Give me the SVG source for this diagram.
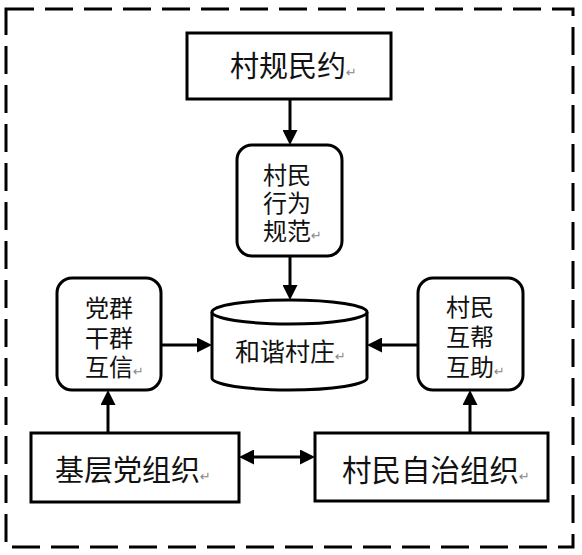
<svg xmlns="http://www.w3.org/2000/svg" width="582" height="555" viewBox="0 0 582 555">
  <style>
    .box { fill: #fff; stroke: #000; stroke-width: 3; }
    .t { font-family: "Liberation Sans", "Noto Sans CJK SC", sans-serif; fill: #111; }
    .big { font-size: 29px; }
    .mid { font-size: 25px; }
    .sm { font-size: 24px; }
    .ret { font-family: "DejaVu Sans", sans-serif; font-size: 13px; fill: #888; }
    .conn { stroke: #000; stroke-width: 3; fill: none; }
  </style>
  <defs>
    <marker id="ah" markerUnits="userSpaceOnUse" markerWidth="15" markerHeight="15" refX="9" refY="7.5" orient="auto-start-reverse">
      <path d="M0,0 L15,7.5 L0,15 z" fill="#000"/>
    </marker>
  </defs>
  <rect x="0" y="0" width="582" height="555" fill="#fff"/>
  <rect x="6" y="9" width="567" height="538" fill="none" stroke="#000" stroke-width="3" stroke-dasharray="28 11"/>

  <g id="connectors">
    <line class="conn" x1="290" y1="99" x2="290" y2="139" marker-end="url(#ah)"/>
    <line class="conn" x1="290" y1="256" x2="290" y2="294" marker-end="url(#ah)"/>
    <line class="conn" x1="161" y1="345" x2="206" y2="345" marker-end="url(#ah)"/>
    <line class="conn" x1="418" y1="345" x2="373" y2="345" marker-end="url(#ah)"/>
    <line class="conn" x1="108" y1="433" x2="108" y2="396" marker-end="url(#ah)"/>
    <line class="conn" x1="470" y1="433" x2="470" y2="396" marker-end="url(#ah)"/>
    <line class="conn" x1="245" y1="457" x2="309" y2="457" marker-start="url(#ah)" marker-end="url(#ah)"/>
  </g>

  <g id="cungui">
    <rect class="box" x="187" y="33" width="204" height="66"/>
    <text class="t big" x="230" y="77">村规民约<tspan class="ret">↵</tspan></text>
  </g>

  <g id="xingwei">
    <rect class="box" x="237" y="145" width="105" height="111" rx="15"/>
    <text class="t sm"><tspan x="263" y="184">村民</tspan><tspan x="263" y="212">行为</tspan><tspan x="263" y="240">规范</tspan><tspan class="ret">↵</tspan></text>
  </g>

  <g id="hexie">
    <path class="box" d="M212,312 L212,378 A77.5,12 0 0,0 367,378 L367,312"/>
    <ellipse class="box" cx="289.5" cy="312" rx="77.5" ry="12"/>
    <text class="t mid" x="235" y="361">和谐村庄<tspan class="ret">↵</tspan></text>
  </g>

  <g id="dangqun">
    <rect class="box" x="57" y="278" width="104" height="112" rx="15"/>
    <text class="t sm"><tspan x="85" y="317">党群</tspan><tspan x="85" y="347">干群</tspan><tspan x="85" y="376">互信</tspan><tspan class="ret">↵</tspan></text>
  </g>

  <g id="huzhu">
    <rect class="box" x="418" y="278" width="105" height="112" rx="15"/>
    <text class="t sm"><tspan x="446" y="316">村民</tspan><tspan x="446" y="346">互帮</tspan><tspan x="446" y="376">互助</tspan><tspan class="ret">↵</tspan></text>
  </g>

  <g id="jiceng">
    <rect class="box" x="31" y="433" width="208" height="69"/>
    <text class="t big" x="55" y="481">基层党组织<tspan class="ret">↵</tspan></text>
  </g>

  <g id="zizhi">
    <rect class="box" x="315" y="433" width="233" height="68"/>
    <text class="t big" x="342" y="481" style="font-size:29.5px">村民自治组织<tspan class="ret">↵</tspan></text>
  </g>
</svg>
